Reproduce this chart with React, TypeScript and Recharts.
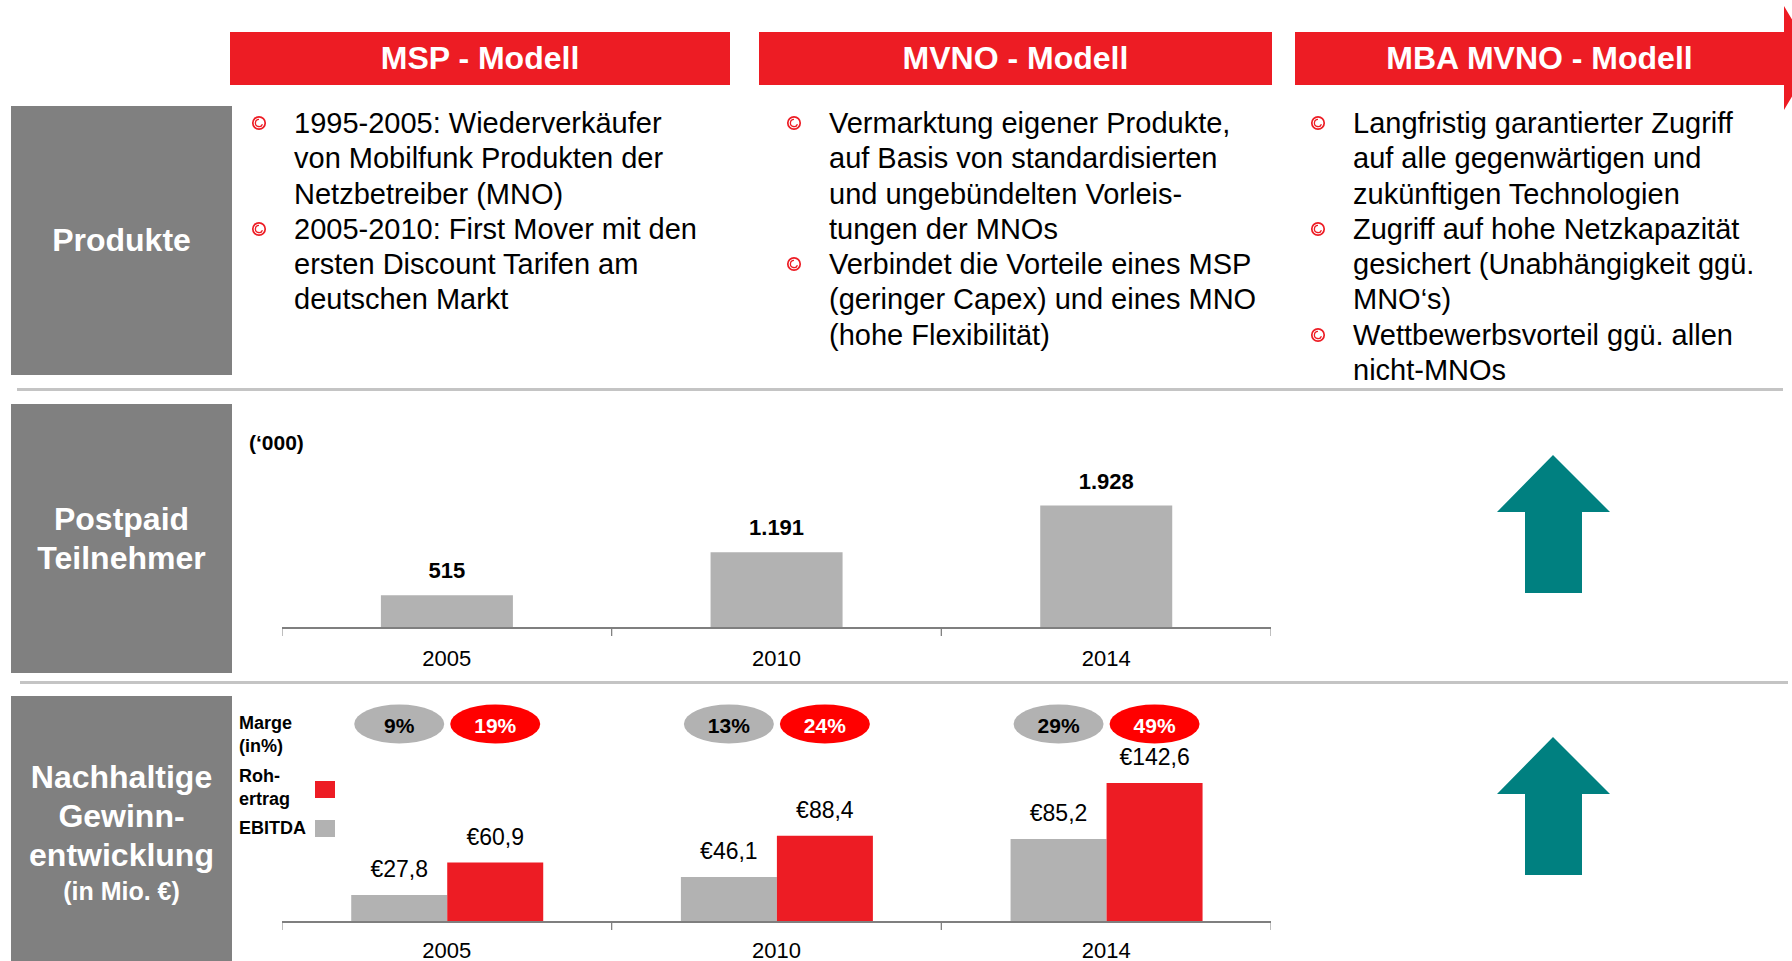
import React from "react";
import { BarChart, Bar, XAxis, YAxis, LabelList } from "recharts";

const years = ["2005", "2010", "2014"];
const postpaidSubs = [515, 1191, 1928];
const ebitda = [27.8, 46.1, 85.2];
const rohertrag = [60.9, 88.4, 142.6];
const ebitdaMarge = [9, 13, 29];
const rohMarge = [19, 24, 49];

const models = ["MSP - Modell", "MVNO - Modell", "MBA MVNO - Modell"];
const mspBullets = [
  ["1995-2005: Wiederverkäufer", "von Mobilfunk Produkten der", "Netzbetreiber (MNO)"],
  ["2005-2010: First Mover mit den", "ersten Discount Tarifen am", "deutschen Markt"],
];
const mvnoBullets = [
  ["Vermarktung eigener Produkte,", "auf Basis von standardisierten", "und ungebündelten Vorleis-", "tungen der MNOs"],
  ["Verbindet die Vorteile eines MSP", "(geringer Capex) und eines MNO", "(hohe Flexibilität)"],
];
const mbaBullets = [
  ["Langfristig garantierter Zugriff", "auf alle gegenwärtigen und", "zukünftigen Technologien"],
  ["Zugriff auf hohe Netzkapazität", "gesichert (Unabhängigkeit ggü.", "MNO‘s)"],
  ["Wettbewerbsvorteil ggü. allen", "nicht-MNOs"],
];

const RED = "#ed1c24";
const GREY_BAR = "#b2b2b2";
const BOX_GREY = "#808080";
const TEAL = "#008080";
const FONT = "'Liberation Sans', Arial, sans-serif";

const subsData = years.map((year, i) => ({ year, subs: postpaidSubs[i] }));
const profitData = years.map((year, i) => ({
  year,
  ebitda: ebitda[i],
  roh: rohertrag[i],
  ebitdaMarge: ebitdaMarge[i],
  rohMarge: rohMarge[i],
}));

const fmtThousands = (v: any) => {
  const s = String(v);
  return s.length > 3 ? s.slice(0, -3) + "." + s.slice(-3) : s;
};
const fmtEuro = (v: any) => "€" + Number(v).toFixed(1).replace(".", ",");

const CHART_W = 989;

function YearTick(props: any) {
  const { x, y, payload, dy } = props;
  const half = (payload && payload.offset) || CHART_W / 6;
  return (
    <g>
      <line x1={x - half} x2={x - half} y1={y} y2={y + 8} stroke="#7f7f7f" strokeWidth={1} />
      <line x1={x + half} x2={x + half} y1={y} y2={y + 8} stroke="#7f7f7f" strokeWidth={1} />
      <text x={x} y={y + dy} textAnchor="middle" dominantBaseline="central" fontSize={22} fill="#000" fontFamily={FONT}>
        {payload.value}
      </text>
    </g>
  );
}

const margeBubble = (fill: string, color: string) => (props: any) => {
  const { x, width, value } = props;
  const cx = Number(x) + Number(width) / 2;
  return (
    <g>
      <ellipse cx={cx} cy={24} rx={45} ry={19.5} fill={fill} />
      <text x={cx} y={25} textAnchor="middle" dominantBaseline="central" fontSize={21} fontWeight="bold" fill={color} fontFamily={FONT}>
        {value}%
      </text>
    </g>
  );
};

function BulletIcon() {
  return (
    <svg width={16} height={16} viewBox="0 0 16 16" style={{ display: "block" }}>
      <circle cx={8} cy={8} r={6.2} fill="none" stroke={RED} strokeWidth={1.7} />
      <path d="M8 4.4 A3.6 3.6 0 1 0 11.4 9.2" fill="none" stroke={RED} strokeWidth={1.3} />
    </svg>
  );
}

function BulletList({ items, left }: { items: string[][]; left: number }) {
  return (
    <div style={{ position: "absolute", left, top: 106, fontSize: 29, lineHeight: "35.3px", color: "#000" }}>
      {items.map((lines, i) => (
        <div key={i} style={{ position: "relative" }}>
          <div style={{ position: "absolute", left: -43, top: 9 }}>
            <BulletIcon />
          </div>
          {lines.map((l, j) => (
            <div key={j} style={{ whiteSpace: "nowrap" }}>{l}</div>
          ))}
        </div>
      ))}
    </div>
  );
}

function SideBox({ top, height, children }: any) {
  return (
    <div
      style={{
        position: "absolute", left: 11, top, width: 221, height, background: BOX_GREY,
        color: "#fff", fontWeight: "bold", fontSize: 32, display: "flex", flexDirection: "column",
        alignItems: "center", justifyContent: "center", textAlign: "center",
      }}
    >
      {children}
    </div>
  );
}

function UpArrow({ top }: { top: number }) {
  return (
    <svg style={{ position: "absolute", left: 1496, top }} width={115} height={140}>
      <polygon points="57,0 114,57 86,57 86,138 29,138 29,57 1,57" fill={TEAL} />
    </svg>
  );
}

export default function App() {
  const headerStyle: React.CSSProperties = {
    position: "absolute", top: 32, height: 53, background: RED, color: "#fff", fontWeight: "bold",
    fontSize: 32, display: "flex", alignItems: "center", justifyContent: "center",
  };
  return (
    <div style={{ position: "absolute", left: 0, top: 0, width: 1792, height: 961, background: "#fff", overflow: "hidden", fontFamily: FONT }}>
      {/* headers */}
      <div style={{ ...headerStyle, left: 230, width: 500 }}>{models[0]}</div>
      <div style={{ ...headerStyle, left: 759, width: 513 }}>{models[1]}</div>
      <svg style={{ position: "absolute", left: 0, top: 0 }} width={1792} height={120}>
        <polygon points="1295,32 1784,32 1784,6 1815,58 1784,110 1784,85 1295,85" fill={RED} />
      </svg>
      <div style={{ ...headerStyle, left: 1295, width: 489, background: "transparent" }}>{models[2]}</div>

      {/* side boxes */}
      <SideBox top={106} height={269}>Produkte</SideBox>
      <SideBox top={404} height={269}>
        <div style={{ lineHeight: "39px" }}>Postpaid<br />Teilnehmer</div>
      </SideBox>
      <SideBox top={696} height={280}>
        <div style={{ lineHeight: "39px", marginTop: -8 }}>
          Nachhaltige<br />Gewinn-<br />entwicklung
        </div>
        <div style={{ fontSize: 25, lineHeight: "32px" }}>(in Mio. €)</div>
      </SideBox>

      {/* bullets */}
      <BulletList items={mspBullets} left={294} />
      <BulletList items={mvnoBullets} left={829} />
      <BulletList items={mbaBullets} left={1353} />

      {/* separators */}
      <div style={{ position: "absolute", left: 17, top: 388, width: 1766, height: 3, background: "#c4c4c4" }} />
      <div style={{ position: "absolute", left: 20, top: 681, width: 1768, height: 3, background: "#c4c4c4" }} />

      {/* postpaid chart */}
      <div style={{ position: "absolute", left: 249, top: 431, fontSize: 21, fontWeight: "bold" }}>(‘000)</div>
      <div style={{ position: "absolute", left: 282, top: 440 }}>
        <BarChart width={CHART_W} height={240} data={subsData} margin={{ top: 61, right: 0, bottom: 0, left: 0 }} barCategoryGap="30%">
          <XAxis
            dataKey="year"
            height={52}
            interval={0}
            tickSize={0}
            tickMargin={0}
            tickLine={false}
            axisLine={{ stroke: "#7f7f7f", strokeWidth: 2 }}
            tick={(p: any) => <YearTick {...p} dy={30} />}
          />
          <YAxis hide domain={[0, 2000]} />
          <Bar dataKey="subs" fill={GREY_BAR} isAnimationActive={false}>
            <LabelList dataKey="subs" position="top" offset={17} formatter={fmtThousands} fill="#000" fontSize={22} fontWeight="bold" fontFamily={FONT} />
          </Bar>
        </BarChart>
      </div>
      <UpArrow top={455} />

      {/* profit chart legend */}
      <div style={{ position: "absolute", left: 239, top: 712, fontSize: 18, fontWeight: "bold", lineHeight: "23px" }}>
        Marge<br />(in%)
      </div>
      <div style={{ position: "absolute", left: 239, top: 765, fontSize: 18, fontWeight: "bold", lineHeight: "23px" }}>
        Roh-<br />ertrag
      </div>
      <div style={{ position: "absolute", left: 315, top: 781, width: 20, height: 17, background: RED }} />
      <div style={{ position: "absolute", left: 239, top: 817, fontSize: 18, fontWeight: "bold", lineHeight: "23px" }}>EBITDA</div>
      <div style={{ position: "absolute", left: 315, top: 820, width: 20, height: 17, background: GREY_BAR }} />

      {/* profit chart */}
      <div style={{ position: "absolute", left: 282, top: 700 }}>
        <BarChart width={CHART_W} height={261} data={profitData} margin={{ top: 66, right: 0, bottom: 0, left: 0 }} barCategoryGap="21%" barGap={0}>
          <XAxis
            dataKey="year"
            height={39}
            interval={0}
            tickSize={0}
            tickMargin={0}
            tickLine={false}
            axisLine={{ stroke: "#7f7f7f", strokeWidth: 2 }}
            tick={(p: any) => <YearTick {...p} dy={28} />}
          />
          <YAxis hide domain={[0, 160]} />
          <Bar dataKey="ebitda" fill={GREY_BAR} isAnimationActive={false}>
            <LabelList dataKey="ebitda" position="top" offset={18} formatter={fmtEuro} fill="#000" fontSize={23} fontFamily={FONT} />
            <LabelList dataKey="ebitdaMarge" content={margeBubble(GREY_BAR, "#000")} />
          </Bar>
          <Bar dataKey="roh" fill={RED} isAnimationActive={false}>
            <LabelList dataKey="roh" position="top" offset={18} formatter={fmtEuro} fill="#000" fontSize={23} fontFamily={FONT} />
            <LabelList dataKey="rohMarge" content={margeBubble("#ff0000", "#fff")} />
          </Bar>
        </BarChart>
      </div>
      <UpArrow top={737} />
    </div>
  );
}
